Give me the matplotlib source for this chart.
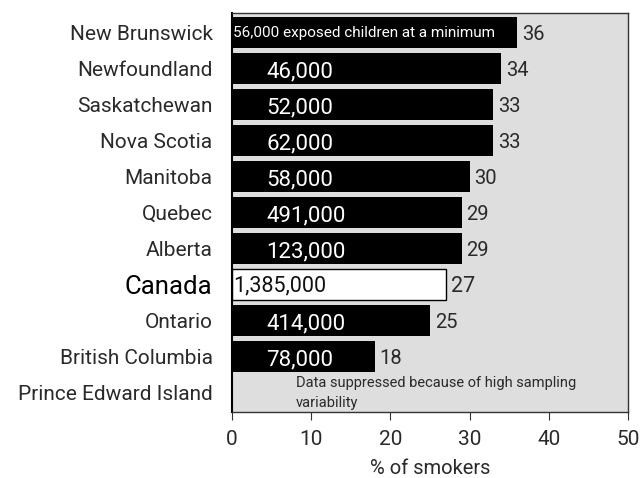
import matplotlib.pyplot as plt

# Data (top to bottom)
provinces = ['New Brunswick', 'Newfoundland', 'Saskatchewan', 'Nova Scotia', 'Manitoba',
             'Quebec', 'Alberta', 'Canada', 'Ontario', 'British Columbia',
             'Prince Edward Island']
smokers_pct = [36, 34, 33, 33, 30, 29, 29, 27, 25, 18, None]
children = ['56,000 exposed children at a minimum', '46,000', '52,000', '62,000', '58,000',
            '491,000', '123,000', '1,385,000', '414,000', '78,000', None]

plt.rcParams['font.family'] = ['Roboto', 'DejaVu Sans']

fig = plt.figure(figsize=(6.4, 4.78), dpi=100)
ax = fig.add_axes([0.3625, 0.138, 0.61875, 0.835])
ax.set_facecolor('#dedede')

ypos = list(range(len(provinces)))
for y, name, val, lab in zip(ypos, provinces, smokers_pct, children):
    if val is None:
        continue
    is_canada = name == 'Canada'
    ax.barh(y, val, height=0.85,
            color='white' if is_canada else 'black',
            edgecolor='black', linewidth=1 if is_canada else 0)
    # value at the end of the bar
    ax.text(val + 0.6, y + 0.05, str(val), va='center', ha='left',
            fontsize=15.5 if is_canada else 14.5, color='#2a2a2a')
    # count of exposed children inside the bar
    if lab.startswith('56,000'):
        ax.text(0.1, y, lab, va='center', ha='left', fontsize=11, color='white')
    elif is_canada:
        ax.text(0.2, y + 0.05, lab, va='center', ha='left', fontsize=15.5, color='#111111')
    else:
        ax.text(4.3, y + 0.1, lab, va='center', ha='left', fontsize=16, color='white')

# suppressed data note
ax.text(8.1, ypos[-1] - 0.45, 'Data suppressed because of high sampling\nvariability',
        va='top', ha='left', fontsize=10.5, color='#2a2a2a', linespacing=1.5)

ax.set_xlim(0, 50)
ax.set_ylim(len(provinces) - 0.45, -0.55)
ax.set_xticks([0, 10, 20, 30, 40, 50])
ax.set_yticks(ypos)
ax.set_yticklabels(provinces, color='#2a2a2a')
for lbl in ax.get_yticklabels():
    if lbl.get_text() == 'Canada':
        lbl.set_fontsize(18.5)
        lbl.set_color('black')
    else:
        lbl.set_fontsize(15)
ax.tick_params(axis='y', length=0, pad=14)
ax.tick_params(axis='x', labelsize=15, labelcolor='#2a2a2a', length=6,
               direction='out', color='#333333', pad=7)

ax.spines['left'].set_linewidth(1.5)
for s in ['top', 'right', 'bottom']:
    ax.spines[s].set_color('#333333')
    ax.spines[s].set_linewidth(1)

ax.set_xlabel('% of smokers', fontsize=14.5, labelpad=7, color='#2a2a2a')

plt.savefig('out.png', dpi=100)
